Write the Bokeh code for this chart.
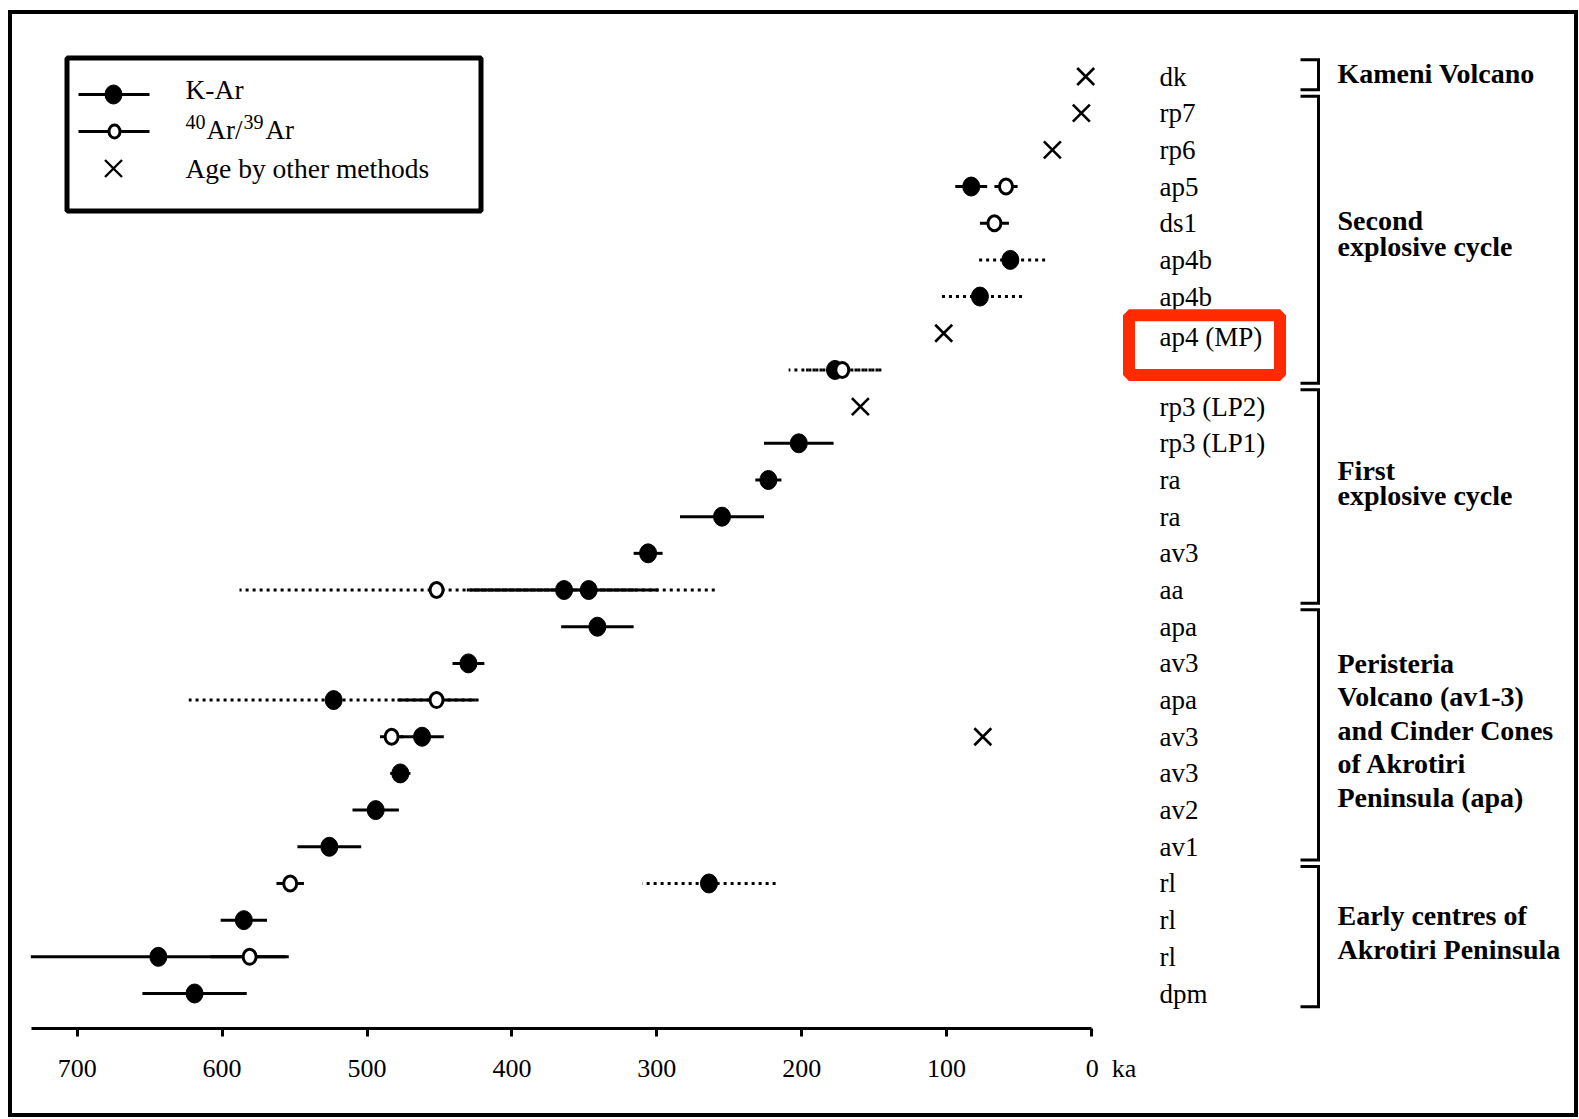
from bokeh.plotting import figure
from bokeh.models import Range1d, FixedTicker
from bokeh.core.properties import value
from bokeh.embed import file_html
from bokeh.resources import INLINE

# ---------------- data ----------------
row_labels = ["dk", "rp7", "rp6", "ap5", "ds1", "ap4b", "ap4b", "ap4 (MP)", "aa",
              "rp3 (LP2)", "rp3 (LP1)", "ra", "ra", "av3", "aa",
              "apa", "av3", "apa", "av3", "av3", "av2", "av1",
              "rl", "rl", "rl", "dpm"]

# K-Ar ages (ka), error (ka), dotted error bar flag
kar_row = [3, 5, 6, 8, 10, 11, 12, 13, 14, 14, 15, 16, 17, 18, 19, 20, 21, 22, 23, 24, 25]
kar_age = [83, 56, 77, 177, 202, 223, 255, 306, 364, 347, 341, 430, 523, 462, 477, 494, 526, 264, 585, 644, 619]
kar_err = [11, 24, 29, 32, 24, 9, 29, 10, 65, 87, 25, 11, 100, 15, 7, 16, 22, 46, 16, 88, 36]
kar_dot = [0, 1, 1, 1, 0, 0, 0, 0, 0, 1, 0, 0, 1, 0, 0, 0, 0, 1, 0, 0, 0]

# 40Ar/39Ar ages
arar_row = [3, 4, 8, 14, 17, 18, 22, 24]
arar_age = [59, 67, 172, 452, 452, 483, 553, 581]
arar_err = [8, 10, 25, 136, 27, 8, 9.5, 27]
arar_dot = [0, 0, 1, 1, 0, 0, 0, 0]

# ages by other methods
other_row = [0, 1, 2, 7, 9, 18]
other_age = [4, 7, 27, 102, 159.5, 75]

x_ticks = [0, 100, 200, 300, 400, 500, 600, 700]
x_unit = "ka"

group_first = [0, 1, 9, 15, 22]
group_last = [0, 8, 14, 21, 25]
group_lines = [["Kameni Volcano"],
               ["Second", "explosive cycle"],
               ["First", "explosive cycle"],
               ["Peristeria", "Volcano (av1-3)", "and Cinder Cones", "of Akrotiri", "Peninsula (apa)"],
               ["Early centres of", "Akrotiri Peninsula"]]

legend_labels = ["K-Ar", "Age by other methods"]

# ---------------- layout helpers (page pixel -> data) ----------------
PAGE_W, PAGE_H = 1579, 1119
OX, OY = 7, 9                      # figure offset on the page
W, H = PAGE_W - OX, PAGE_H - OY - 1
AXIS_Y = 1028                      # page y of the x axis line
X0, PX_KA = 1091.0, 1.449
Y0, PX_ROW = 76.0, 36.68


def kx(px):
    return (X0 - px) / PX_KA


def ry(py):
    return (py - Y0) / PX_ROW


SERIF = value("Liberation Serif")

p = figure(width=W, height=H, output_backend="svg", toolbar_location=None,
           x_range=Range1d(kx(OX), kx(OX + W)), y_range=Range1d(ry(AXIS_Y), ry(OY)),
           y_axis_location=None, min_border_left=0, min_border_right=0,
           min_border_top=0, min_border_bottom=OY + H - AXIS_Y)
p.grid.visible = False
p.outline_line_color = None
p.background_fill_color = None
p.border_fill_color = None
p.styles = {"margin-left": f"{OX}px", "margin-top": f"{OY}px",
            "outline": "4px solid black", "outline-offset": "-5px"}

ax = p.xaxis[0]
ax.ticker = FixedTicker(ticks=x_ticks)
ax.bounds = (0, kx(31))
ax.axis_line_width = 3
ax.axis_line_color = "black"
ax.major_tick_line_width = 3
ax.major_tick_line_color = "black"
ax.major_tick_out = 8
ax.major_tick_in = 0
ax.minor_tick_line_color = None
ax.major_label_text_font = "Liberation Serif"
ax.major_label_text_font_size = "26px"
ax.major_label_text_color = "black"
ax.major_label_standoff = 17
NB = "\u00a0"
ax.major_label_overrides = {0: NB * 6 + "0" + NB * 2 + x_unit}


# ---------------- error bars ----------------
def bars(rows, ages, errs, dots, want):
    sel = [i for i in range(len(rows)) if dots[i] == want]
    return dict(x0=[ages[i] - errs[i] for i in sel],
                x1=[ages[i] + errs[i] for i in sel],
                y=[rows[i] for i in sel])


series = [(kar_row, kar_age, kar_err, kar_dot), (arar_row, arar_age, arar_err, arar_dot)]
for rows, ages, errs, dots in series:
    d = bars(rows, ages, errs, dots, 1)
    p.segment(x0=d["x0"], x1=d["x1"], y0=d["y"], y1=d["y"], line_color="black",
              line_width=3, line_dash="3 4", line_cap="butt")
for rows, ages, errs, dots in series:
    d = bars(rows, ages, errs, dots, 0)
    p.segment(x0=d["x0"], x1=d["x1"], y0=d["y"], y1=d["y"], line_color="black",
              line_width=3)

# ---------------- markers ----------------
p.ellipse(x=kar_age, y=kar_row, width=17, height=19, width_units="screen",
          height_units="screen", fill_color="black", line_color="black")
p.ellipse(x=arar_age, y=arar_row, width=13, height=15, width_units="screen",
          height_units="screen", fill_color="white", line_color="black", line_width=3)
p.scatter(x=other_age, y=other_row, marker="x", size=24, line_width=2.6, line_color="black")

# ---------------- row labels ----------------
n = len(row_labels)
idx_main = [i for i in range(n) if i != 7]
p.text(x=[kx(1159)] * len(idx_main), y=idx_main, text=[row_labels[i] for i in idx_main],
       text_font=SERIF, text_font_size=value("27px"), text_baseline="middle",
       text_align="left", text_color="black")

# red highlight box around ap4 (MP)
p.rect(x=[kx(1204)], y=[ry(344.6)], width=151 / PX_KA, height=59.8 / PX_ROW,
       fill_color="white", line_color="#ff2a00", line_width=12)
p.text(x=[kx(1159)], y=[7.1], text=[row_labels[7]], text_font=SERIF,
       text_font_size=value("27px"), text_baseline="middle", text_align="left",
       text_color="black")

# ---------------- group brackets & labels ----------------
bx0, bx1 = kx(1300), kx(1318)
xs, ys = [], []
for f, l in zip(group_first, group_last):
    top, bot = f - 0.46, l + 0.36
    xs.append([bx0, bx1, bx1, bx0])
    ys.append([top, top, bot, bot])
p.multi_line(xs=xs, ys=ys, line_color="black", line_width=3, line_join="miter")

label_center_px = [73.3, 233.2, 482.9, 729.6, 932.0]
label_step_px = [0, 25.5, 25.0, 33.5, 33.2]
gx, gy, gt = [], [], []
for lines, c, s in zip(group_lines, label_center_px, label_step_px):
    k = len(lines)
    for j, t in enumerate(lines):
        gx.append(kx(1337))
        gy.append(ry(c + (j - (k - 1) / 2) * s))
        gt.append(t)
p.text(x=gx, y=gy, text=gt, text_font=SERIF, text_font_size=value("28px"),
       text_font_style="bold", text_baseline="middle", text_align="left",
       text_color="black")

# ---------------- legend ----------------
p.rect(x=[kx((64 + 483) / 2)], y=[ry((55 + 213) / 2)], width=(483 - 64 - 5) / PX_KA,
       height=(213 - 55 - 5) / PX_ROW, fill_color="white", line_color="black", line_width=5)
p.segment(x0=[kx(78), kx(78)], x1=[kx(149), kx(149)], y0=[ry(94), ry(131)],
          y1=[ry(94), ry(131)], line_color="black", line_width=3)
p.ellipse(x=[kx(113)], y=[ry(94)], width=17, height=19, width_units="screen",
          height_units="screen", fill_color="black", line_color="black")
p.ellipse(x=[kx(114)], y=[ry(131)], width=11, height=13, width_units="screen",
          height_units="screen", fill_color="white", line_color="black", line_width=3)
p.scatter(x=[kx(113)], y=[ry(168)], marker="x", size=24, line_width=2.4, line_color="black")
p.text(x=[kx(185), kx(185)], y=[ry(89), ry(168)], text=legend_labels, text_font=SERIF,
       text_font_size=value("27.5px"), text_baseline="middle", text_align="left",
       text_color="black")
p.text(x=[kx(185), kx(243)], y=[ry(121), ry(121)], text=["40", "39"], text_font=SERIF,
       text_font_size=value("20px"), text_baseline="middle", text_align="left",
       text_color="black")
p.text(x=[kx(206), kx(265)], y=[ry(129), ry(129)], text=["Ar/", "Ar"], text_font=SERIF,
       text_font_size=value("27px"), text_baseline="middle", text_align="left",
       text_color="black")

open("out.html", "w").write(file_html(p, INLINE))
